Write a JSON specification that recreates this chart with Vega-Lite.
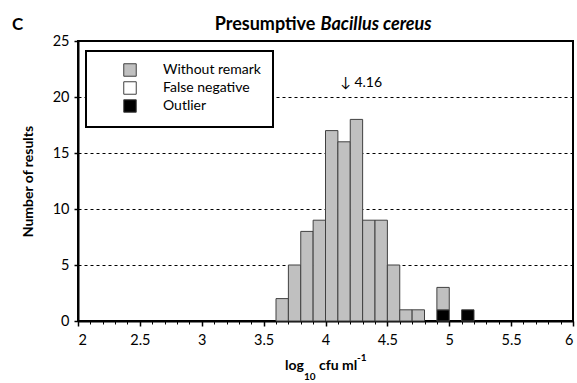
{
  "$schema": "https://vega.github.io/schema/vega-lite/v6.json",
  "width": 495,
  "height": 280,
  "autosize": "none",
  "padding": {"left": 78, "top": 41, "right": 4, "bottom": 62},
  "config": {
    "font": "Lato",
    "view": {"stroke": "black", "strokeWidth": 2},
    "axis": {"domainColor": "black", "domainWidth": 2, "tickColor": "black", "labelColor": "black", "titleColor": "black", "labelFont": "Lato", "titleFont": "Lato"},
    "text": {"font": "Lato", "color": "black"}
  },
  "datasets": {
    "bars": [
      {"start": 3.6, "end": 3.7, "category": "Without remark", "count": 2},
      {"start": 3.7, "end": 3.8, "category": "Without remark", "count": 5},
      {"start": 3.8, "end": 3.9, "category": "Without remark", "count": 8},
      {"start": 3.9, "end": 4.0, "category": "Without remark", "count": 9},
      {"start": 4.0, "end": 4.1, "category": "Without remark", "count": 17},
      {"start": 4.1, "end": 4.2, "category": "Without remark", "count": 16},
      {"start": 4.2, "end": 4.3, "category": "Without remark", "count": 18},
      {"start": 4.3, "end": 4.4, "category": "Without remark", "count": 9},
      {"start": 4.4, "end": 4.5, "category": "Without remark", "count": 9},
      {"start": 4.5, "end": 4.6, "category": "Without remark", "count": 5},
      {"start": 4.6, "end": 4.7, "category": "Without remark", "count": 1},
      {"start": 4.7, "end": 4.8, "category": "Without remark", "count": 1},
      {"start": 4.9, "end": 5.0, "category": "Outlier", "count": 1},
      {"start": 4.9, "end": 5.0, "category": "Without remark", "count": 2},
      {"start": 5.1, "end": 5.2, "category": "Outlier", "count": 1}
    ],
    "note": [
      {"x": 4.16, "y": 20.9, "label": "↓ 4.16"}
    ]
  },
  "layer": [
    {
      "data": {"name": "bars"},
      "transform": [
        {"stack": "count", "groupby": ["start"], "sort": [{"field": "category", "order": "ascending"}], "as": ["y0", "y1"]}
      ],
      "mark": {"type": "rect", "stroke": "#404040", "strokeWidth": 1},
      "encoding": {
        "x": {"field": "start", "type": "quantitative", "scale": {"domain": [2, 6], "nice": false, "zero": false},
          "axis": {"orient": "bottom", "values": [2, 2.5, 3, 3.5, 4, 4.5, 5, 5.5, 6], "format": "~g", "grid": false, "tickSize": 5, "tickWidth": 1.5, "labelFontSize": 14.5, "labelPadding": 7, "title": null}},
        "x2": {"field": "end"},
        "y": {"field": "y0", "type": "quantitative", "scale": {"domain": [0, 25], "nice": false},
          "axis": {"values": [0, 5, 10, 15, 20, 25], "grid": true, "gridDash": [3, 3], "gridColor": "black", "gridOpacity": 1, "gridWidth": 1, "tickSize": 4, "tickWidth": 1.5, "labelFontSize": 14.5, "labelPadding": 5, "title": "Number of results", "titleFontSize": 14, "titleFontWeight": "bold", "titlePadding": 17}},
        "y2": {"field": "y1"},
        "color": {"field": "category", "type": "nominal",
          "scale": {"domain": ["Without remark", "False negative", "Outlier"], "range": ["#c0c0c0", "#ffffff", "#000000"]},
          "legend": {"orient": "none", "legendX": 8, "legendY": 10, "title": null, "strokeColor": "black", "fillColor": "white", "padding": 12, "symbolType": "square", "symbolSize": 156, "symbolStrokeColor": "#404040", "symbolStrokeWidth": 1, "symbolOpacity": 1, "symbolOffset": 25, "labelOffset": 26, "labelFontSize": 14, "labelColor": "black", "rowPadding": 0,
            "encode": {"legend": {"update": {"strokeWidth": {"value": 2}}}}}}
      }
    },
    {
      "data": {"name": "note"},
      "mark": {"type": "text", "align": "left", "baseline": "alphabetic", "dx": -5, "fontSize": 14},
      "encoding": {
        "x": {"field": "x", "type": "quantitative", "scale": {"domain": [2, 6], "nice": false, "zero": false},
          "axis": {"orient": "bottom", "values": [2.1, 2.2, 2.3, 2.4, 2.6, 2.7, 2.8, 2.9, 3.1, 3.2, 3.3, 3.4, 3.6, 3.7, 3.8, 3.9, 4.1, 4.2, 4.3, 4.4, 4.6, 4.7, 4.8, 4.9, 5.1, 5.2, 5.3, 5.4, 5.6, 5.7, 5.8, 5.9], "labels": false, "domain": false, "grid": false, "tickSize": 3, "tickWidth": 1, "title": null}},
        "y": {"field": "y", "type": "quantitative", "scale": {"domain": [0, 25], "nice": false}, "axis": null},
        "text": {"field": "label"}
      }
    },
    {
      "data": {"values": [{}]},
      "mark": {"type": "text", "align": "left", "baseline": "alphabetic", "fontSize": 17, "fontWeight": "bold"},
      "encoding": {
        "x": {"datum": 1.467, "type": "quantitative", "scale": {"domain": [2, 6], "nice": false, "zero": false}, "axis": null},
        "y": {"datum": 26.0, "type": "quantitative", "scale": {"domain": [0, 25], "nice": false}, "axis": null},
        "text": {"value": "C"}
      }
    },
    {
      "data": {"values": [{}]},
      "mark": {"type": "text", "align": "right", "baseline": "alphabetic", "fontSize": 18, "fontWeight": "bold", "dx": -2},
      "encoding": {
        "x": {"datum": 3.935, "type": "quantitative", "scale": {"domain": [2, 6], "nice": false, "zero": false}, "axis": null},
        "y": {"datum": 26.0, "type": "quantitative", "scale": {"domain": [0, 25], "nice": false}, "axis": null},
        "text": {"value": "Presumptive"}
      }
    },
    {
      "data": {"values": [{}]},
      "mark": {"type": "text", "align": "left", "baseline": "alphabetic", "fontSize": 18, "fontWeight": "bold", "fontStyle": "italic", "dx": 3},
      "encoding": {
        "x": {"datum": 3.935, "type": "quantitative", "scale": {"domain": [2, 6], "nice": false, "zero": false}, "axis": null},
        "y": {"datum": 26.0, "type": "quantitative", "scale": {"domain": [0, 25], "nice": false}, "axis": null},
        "text": {"value": "Bacillus cereus"}
      }
    },
    {
      "data": {"values": [{}]},
      "mark": {"type": "text", "align": "left", "baseline": "alphabetic", "fontSize": 14, "fontWeight": "bold"},
      "encoding": {
        "x": {"datum": 3.672, "type": "quantitative", "scale": {"domain": [2, 6], "nice": false, "zero": false}, "axis": null},
        "y": {"datum": -4.375, "type": "quantitative", "scale": {"domain": [0, 25], "nice": false}, "axis": null},
        "text": {"value": "log"}
      }
    },
    {
      "data": {"values": [{}]},
      "mark": {"type": "text", "align": "left", "baseline": "alphabetic", "fontSize": 10, "fontWeight": "bold"},
      "encoding": {
        "x": {"datum": 3.826, "type": "quantitative", "scale": {"domain": [2, 6], "nice": false, "zero": false}, "axis": null},
        "y": {"datum": -5.27, "type": "quantitative", "scale": {"domain": [0, 25], "nice": false}, "axis": null},
        "text": {"value": "10"}
      }
    },
    {
      "data": {"values": [{}]},
      "mark": {"type": "text", "align": "left", "baseline": "alphabetic", "fontSize": 14, "fontWeight": "bold"},
      "encoding": {
        "x": {"datum": 3.947, "type": "quantitative", "scale": {"domain": [2, 6], "nice": false, "zero": false}, "axis": null},
        "y": {"datum": -4.375, "type": "quantitative", "scale": {"domain": [0, 25], "nice": false}, "axis": null},
        "text": {"value": "cfu ml"}
      }
    },
    {
      "data": {"values": [{}]},
      "mark": {"type": "text", "align": "left", "baseline": "alphabetic", "fontSize": 10, "fontWeight": "bold"},
      "encoding": {
        "x": {"datum": 4.254, "type": "quantitative", "scale": {"domain": [2, 6], "nice": false, "zero": false}, "axis": null},
        "y": {"datum": -3.57, "type": "quantitative", "scale": {"domain": [0, 25], "nice": false}, "axis": null},
        "text": {"value": "-1"}
      }
    }
  ],
  "resolve": {"axis": {"x": "independent", "y": "independent"}}
}
